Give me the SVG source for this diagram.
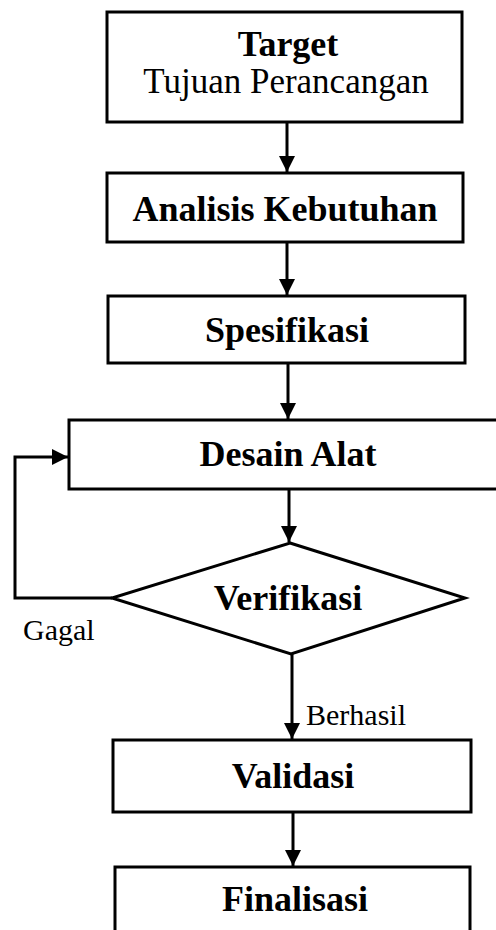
<svg xmlns="http://www.w3.org/2000/svg" width="496" height="930" viewBox="0 0 496 930">
<style>
.box{fill:#fff;stroke:#000;stroke-width:3}
.t{font-family:"Liberation Serif","Times New Roman",serif;font-weight:bold;font-size:36px;fill:#000;text-anchor:middle}
.r{font-family:"Liberation Serif","Times New Roman",serif;font-size:30px;fill:#000}
.c{fill:none;stroke:#000;stroke-width:3}
</style>
<defs>
<marker id="ah" viewBox="0 0 16 16" refX="16" refY="8" markerWidth="16" markerHeight="16" markerUnits="userSpaceOnUse" orient="auto">
<path d="M0,0 L16,8 L0,16 Z" fill="#000"/>
</marker>
</defs>
<rect width="496" height="930" fill="#fff"/>
<g id="connectors">
<line class="c" x1="287" y1="122" x2="287" y2="172" marker-end="url(#ah)"/>
<line class="c" x1="287" y1="242" x2="287" y2="295" marker-end="url(#ah)"/>
<line class="c" x1="288" y1="363" x2="288" y2="419" marker-end="url(#ah)"/>
<line class="c" x1="289" y1="490" x2="289" y2="542" marker-end="url(#ah)"/>
<line class="c" x1="292" y1="654" x2="292" y2="739" marker-end="url(#ah)"/>
<line class="c" x1="293" y1="812" x2="293" y2="866" marker-end="url(#ah)"/>
<polyline class="c" points="112,598 15,598 15,457 68,457" marker-end="url(#ah)"/>
<text class="r" x="23" y="640">Gagal</text>
<text class="r" x="306" y="725">Berhasil</text>
</g>
<g id="target">
<rect class="box" x="107" y="12" width="355" height="110"/>
<text class="t" x="288" y="56">Target</text>
<text class="r" x="286" y="93" text-anchor="middle" style="font-size:35px">Tujuan Perancangan</text>
</g>
<g id="analisis">
<rect class="box" x="107" y="173" width="356" height="69"/>
<text class="t" x="285" y="221">Analisis Kebutuhan</text>
</g>
<g id="spesifikasi">
<rect class="box" x="108" y="296" width="357" height="67"/>
<text class="t" x="287" y="342">Spesifikasi</text>
</g>
<g id="desain">
<rect class="box" x="69" y="420" width="440" height="69"/>
<text class="t" x="288" y="466">Desain Alat</text>
</g>
<g id="verifikasi">
<polygon class="box" points="290,543 465,598 291,654 112,598"/>
<text class="t" x="288" y="610">Verifikasi</text>
</g>
<g id="validasi">
<rect class="box" x="113" y="740" width="358" height="72"/>
<text class="t" x="293" y="788">Validasi</text>
</g>
<g id="finalisasi">
<rect class="box" x="115" y="867" width="355" height="80"/>
<text class="t" x="295" y="911">Finalisasi</text>
</g>
</svg>
